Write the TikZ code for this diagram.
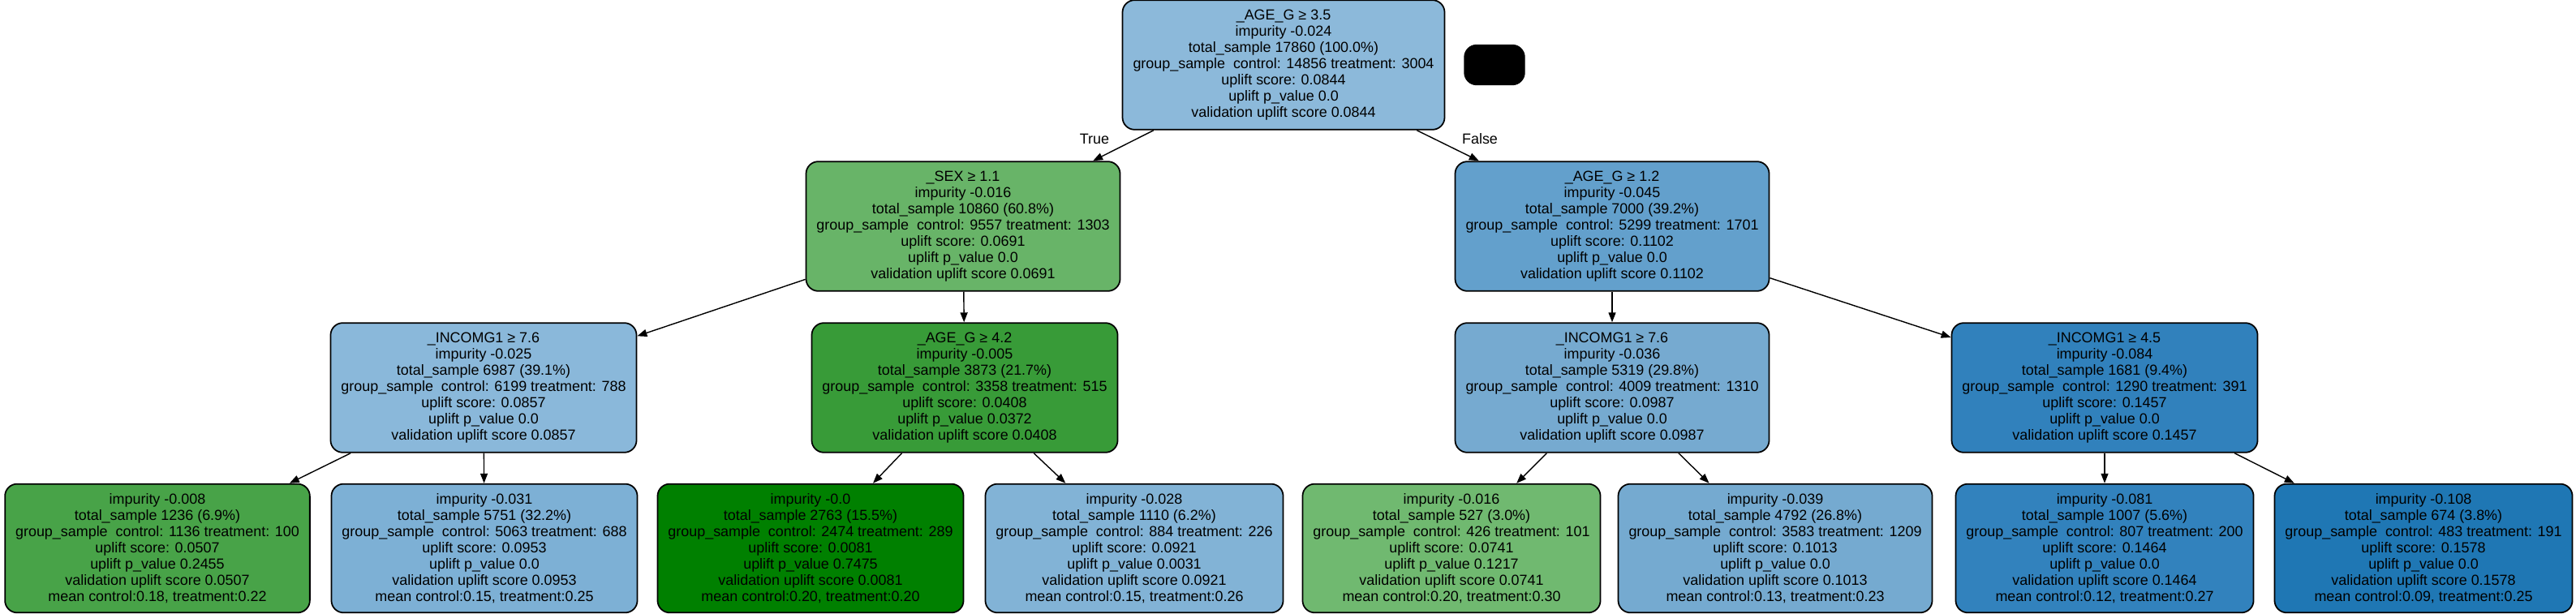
\documentclass[tikz,border=0pt]{standalone}
\usepackage{fontspec}
\setmainfont{Liberation Sans}
\usetikzlibrary{positioning,arrows.meta}
\tikzset{>={Triangle[length=0.12cm,width=0.09cm]}}
\definecolor{cRoot}{HTML}{8CB9DA}
\definecolor{cSex}{HTML}{68B468}
\definecolor{cAgeB}{HTML}{63A0CC}
\definecolor{cIncL}{HTML}{8AB8DA}
\definecolor{cAgeC}{HTML}{389B38}
\definecolor{cIncR}{HTML}{76AAD0}
\definecolor{cIncD}{HTML}{3181BC}
\definecolor{cLfA}{HTML}{48A348}
\definecolor{cLfB}{HTML}{7DB0D5}
\definecolor{cLfC}{HTML}{008000}
\definecolor{cLfD}{HTML}{82B3D6}
\definecolor{cLfE}{HTML}{70B970}
\definecolor{cLfF}{HTML}{75AAD0}
\definecolor{cLfG}{HTML}{3282BD}
\definecolor{cLfH}{HTML}{1F77B4}
\tikzset{
  tnode/.style={draw,rounded corners=0.15cm,align=center,inner xsep=0.13cm,
    minimum height=1.51cm,line width=0.5pt,font=\fontsize{5.1pt}{5.69pt}\selectfont},
  lbl/.style={font=\fontsize{5.1pt}{5.69pt}\selectfont},
  link/.style={->,line width=0.4pt}
}

\begin{document}
\begin{tikzpicture}
\useasboundingbox (0,0) rectangle (31.75,-7.57);
% root and the loose black node
\node[tnode,fill=cRoot] (root) at (15.82,-0.80) {\_AGE\_G ≥ 3.5\\impurity -0.024\\total\_sample 17860 (100.0\%)\\group\_sample\ \ control: 14856 treatment: 3004\\uplift score: 0.0844\\uplift p\_value 0.0\\validation uplift score 0.0844};
\node[draw,fill=black,rounded corners=0.15cm,minimum width=0.74cm,minimum height=0.49cm] (blk) at (18.42,-0.80) {};
% first split
\node[tnode,fill=cSex] (sex) at (11.87,-2.79) {\_SEX ≥ 1.1\\impurity -0.016\\total\_sample 10860 (60.8\%)\\group\_sample\ \ control: 9557 treatment: 1303\\uplift score: 0.0691\\uplift p\_value 0.0\\validation uplift score 0.0691};
\node[tnode,fill=cAgeB] (ageb) at (19.87,-2.79) {\_AGE\_G ≥ 1.2\\impurity -0.045\\total\_sample 7000 (39.2\%)\\group\_sample\ \ control: 5299 treatment: 1701\\uplift score: 0.1102\\uplift p\_value 0.0\\validation uplift score 0.1102};
% second split
\node[tnode,fill=cIncL] (incl) at (5.96,-4.78) {\_INCOMG1 ≥ 7.6\\impurity -0.025\\total\_sample 6987 (39.1\%)\\group\_sample\ \ control: 6199 treatment: 788\\uplift score: 0.0857\\uplift p\_value 0.0\\validation uplift score 0.0857};
\node[tnode,fill=cAgeC] (agec) at (11.89,-4.78) {\_AGE\_G ≥ 4.2\\impurity -0.005\\total\_sample 3873 (21.7\%)\\group\_sample\ \ control: 3358 treatment: 515\\uplift score: 0.0408\\uplift p\_value 0.0372\\validation uplift score 0.0408};
\node[tnode,fill=cIncR] (incr) at (19.87,-4.78) {\_INCOMG1 ≥ 7.6\\impurity -0.036\\total\_sample 5319 (29.8\%)\\group\_sample\ \ control: 4009 treatment: 1310\\uplift score: 0.0987\\uplift p\_value 0.0\\validation uplift score 0.0987};
\node[tnode,fill=cIncD] (incd) at (25.94,-4.78) {\_INCOMG1 ≥ 4.5\\impurity -0.084\\total\_sample 1681 (9.4\%)\\group\_sample\ \ control: 1290 treatment: 391\\uplift score: 0.1457\\uplift p\_value 0.0\\validation uplift score 0.1457};
% leaves
\node[tnode,fill=cLfA] (lfa) at (1.94,-6.76) {impurity -0.008\\total\_sample 1236 (6.9\%)\\group\_sample\ \ control: 1136 treatment: 100\\uplift score: 0.0507\\uplift p\_value 0.2455\\validation uplift score 0.0507\\mean control:0.18, treatment:0.22};
\node[tnode,fill=cLfB] (lfb) at (5.97,-6.76) {impurity -0.031\\total\_sample 5751 (32.2\%)\\group\_sample\ \ control: 5063 treatment: 688\\uplift score: 0.0953\\uplift p\_value 0.0\\validation uplift score 0.0953\\mean control:0.15, treatment:0.25};
\node[tnode,fill=cLfC] (lfc) at (9.99,-6.76) {impurity -0.0\\total\_sample 2763 (15.5\%)\\group\_sample\ \ control: 2474 treatment: 289\\uplift score: 0.0081\\uplift p\_value 0.7475\\validation uplift score 0.0081\\mean control:0.20, treatment:0.20};
\node[tnode,fill=cLfD] (lfd) at (13.98,-6.76) {impurity -0.028\\total\_sample 1110 (6.2\%)\\group\_sample\ \ control: 884 treatment: 226\\uplift score: 0.0921\\uplift p\_value 0.0031\\validation uplift score 0.0921\\mean control:0.15, treatment:0.26};
\node[tnode,fill=cLfE] (lfe) at (17.89,-6.76) {impurity -0.016\\total\_sample 527 (3.0\%)\\group\_sample\ \ control: 426 treatment: 101\\uplift score: 0.0741\\uplift p\_value 0.1217\\validation uplift score 0.0741\\mean control:0.20, treatment:0.30};
\node[tnode,fill=cLfF] (lff) at (21.88,-6.76) {impurity -0.039\\total\_sample 4792 (26.8\%)\\group\_sample\ \ control: 3583 treatment: 1209\\uplift score: 0.1013\\uplift p\_value 0.0\\validation uplift score 0.1013\\mean control:0.13, treatment:0.23};
\node[tnode,fill=cLfG] (lfg) at (25.94,-6.76) {impurity -0.081\\total\_sample 1007 (5.6\%)\\group\_sample\ \ control: 807 treatment: 200\\uplift score: 0.1464\\uplift p\_value 0.0\\validation uplift score 0.1464\\mean control:0.12, treatment:0.27};
\node[tnode,fill=cLfH] (lfh) at (29.87,-6.76) {impurity -0.108\\total\_sample 674 (3.8\%)\\group\_sample\ \ control: 483 treatment: 191\\uplift score: 0.1578\\uplift p\_value 0.0\\validation uplift score 0.1578\\mean control:0.09, treatment:0.25};
% edges
\draw[link] (root) -- (sex);
\draw[link] (root) -- (ageb);
\node[lbl] (ltrue) at (13.49,-1.71) {True};
\node[lbl] (lfalse) at (18.24,-1.71) {False};
\draw[link] (sex) -- (incl);
\draw[link] (sex) -- (agec);
\draw[link] (ageb) -- (incr);
\draw[link] (ageb) -- (incd);
\draw[link] (incl) -- (lfa);
\draw[link] (incl) -- (lfb);
\draw[link] (agec) -- (lfc);
\draw[link] (agec) -- (lfd);
\draw[link] (incr) -- (lfe);
\draw[link] (incr) -- (lff);
\draw[link] (incd) -- (lfg);
\draw[link] (incd) -- (lfh);
\end{tikzpicture}
\end{document}
